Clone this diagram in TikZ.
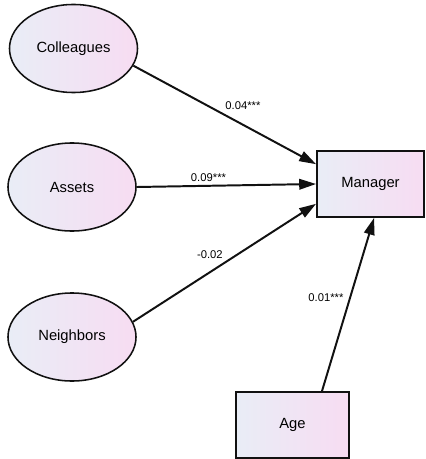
\documentclass[tikz,border=0pt]{standalone}
\usepackage{fontspec}
\setmainfont{Liberation Sans}
\usepackage{tikz}
\usetikzlibrary{arrows.meta,shapes.geometric}
\definecolor{SemInk}{HTML}{111111}
\definecolor{SemLeft}{HTML}{E9EDF6}
\definecolor{SemRight}{HTML}{F7DCF2}

\begin{document}
\begin{tikzpicture}[x=0.025cm,y=-0.025cm,
    latent/.style={ellipse,draw=SemInk,line width=1.1pt,left color=SemLeft,right color=SemRight,
      minimum width=3.2cm,minimum height=2.2cm,font=\fontsize{10.5}{12}\selectfont},
    observed/.style={rectangle,draw=SemInk,line width=1.3pt,left color=SemLeft,right color=SemRight,
      minimum height=1.65cm,font=\fontsize{10.5}{12}\selectfont},
    path/.style={draw=SemInk,line width=1.4pt,-{Triangle[length=12pt,width=7.5pt]}},
    coef/.style={font=\fontsize{8}{9}\selectfont,inner sep=1pt}]
  \useasboundingbox (0,0) rectangle (426,459);
  % exogenous latent factors
  \node[latent] (colleagues) at (73.5,48.5) {Colleagues};
  \node[latent] (assets) at (72,187) {Assets};
  \node[latent] (neighbors) at (72,337) {Neighbors};
  % observed variables
  \node[observed,minimum width=2.675cm] (manager) at (370.5,184) {Manager};
  \node[observed,minimum width=2.825cm] (age) at (292.5,425) {Age};
  % regression paths
  \draw[path] (colleagues.-16) -- node[coef,pos=0.6,above=9pt] {0.04***} (manager.160);
  \draw[path] (assets.east) -- node[coef,pos=0.4,above=1.5pt] {0.09***} (manager.west);
  \draw[path] (neighbors.14) -- node[coef,pos=0.42,above=8pt] {-0.02} (manager.200);
  \draw[path] (age.49) -- node[coef,pos=0.54,left=3pt] {0.01***} (manager.-84);
\end{tikzpicture}
\end{document}
